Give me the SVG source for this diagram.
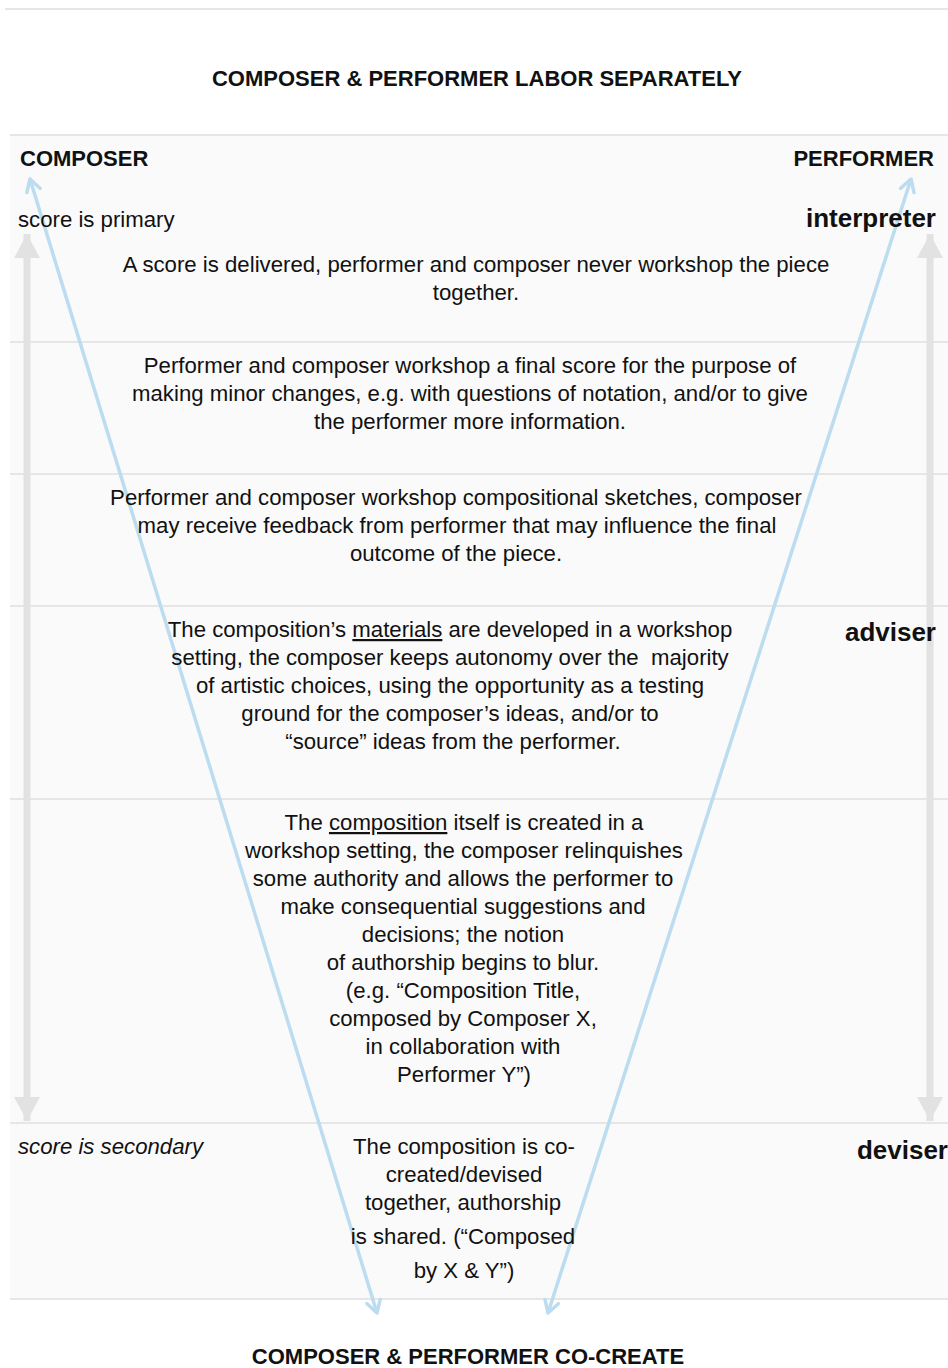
<svg xmlns="http://www.w3.org/2000/svg" width="948" height="1368" viewBox="0 0 948 1368">
<defs>
<style>
text{font-family:"Liberation Sans",Arial,sans-serif;fill:#111}
.b{font-size:22.2px}
.t{font-size:22px;font-weight:bold}
.r{font-size:26px;font-weight:bold}
.c{text-anchor:middle}
.sep{stroke:#e6e6e6;stroke-width:2}
.blue{stroke:#bcdcf0;stroke-width:3.5;fill:none}
.gray{stroke:#e2e2e2;stroke-width:7;fill:none}
.u{text-decoration:underline}
</style>
<marker id="bh" viewBox="0 0 20 20" refX="17" refY="10" markerWidth="20" markerHeight="20" markerUnits="userSpaceOnUse" orient="auto-start-reverse">
<path d="M5,3 L17,10 L5,17" fill="none" stroke="#bcdcf0" stroke-width="3.5" stroke-linecap="round" stroke-linejoin="round"/>
</marker>
<marker id="gh" viewBox="0 0 26 26" refX="24" refY="13" markerWidth="26" markerHeight="26" markerUnits="userSpaceOnUse" orient="auto-start-reverse">
<path d="M0,0 L24,13 L0,26 Z" fill="#e2e2e2"/>
</marker>
</defs>
<rect x="0" y="0" width="948" height="1368" fill="#ffffff"/>
<rect x="10" y="135" width="938" height="1164" fill="#fafafa"/>
<g id="separators">
<line class="sep" x1="5" y1="9" x2="948" y2="9"/>
<line class="sep" x1="10" y1="135" x2="948" y2="135"/>
<line class="sep" x1="10" y1="342" x2="948" y2="342"/>
<line class="sep" x1="10" y1="474" x2="948" y2="474"/>
<line class="sep" x1="10" y1="606" x2="948" y2="606"/>
<line class="sep" x1="10" y1="799" x2="948" y2="799"/>
<line class="sep" x1="10" y1="1123" x2="948" y2="1123"/>
<line class="sep" x1="10" y1="1299" x2="948" y2="1299"/>
</g>
<g id="connectors">
<line class="gray" x1="27" y1="234" x2="27" y2="1121" marker-start="url(#gh)" marker-end="url(#gh)"/>
<line class="gray" x1="930" y1="234" x2="930" y2="1121" marker-start="url(#gh)" marker-end="url(#gh)"/>
<line class="blue" x1="30" y1="179" x2="377" y2="1313" marker-start="url(#bh)" marker-end="url(#bh)"/>
<line class="blue" x1="911" y1="179" x2="548" y2="1313" marker-start="url(#bh)" marker-end="url(#bh)"/>
</g>
<g id="title-top"><text class="t c" x="477" y="86">COMPOSER &amp; PERFORMER LABOR SEPARATELY</text></g>
<g id="composer"><text class="t" x="20" y="166">COMPOSER</text></g>
<g id="performer"><text class="t" x="934" y="166" text-anchor="end">PERFORMER</text></g>
<g id="score-primary"><text class="b" x="18" y="227">score is primary</text></g>
<g id="interpreter"><text class="r" x="936" y="227" text-anchor="end">interpreter</text></g>
<g id="adviser"><text class="r" x="936" y="641" text-anchor="end">adviser</text></g>
<g id="deviser"><text class="r" x="948" y="1159" text-anchor="end">deviser</text></g>
<g id="score-secondary"><text class="b" x="18" y="1154" font-style="italic">score is secondary</text></g>
<g id="level1">
<text class="b c" x="476" y="272">A score is delivered, performer and composer never workshop the piece</text>
<text class="b c" x="476" y="300">together.</text>
</g>
<g id="level2">
<text class="b c" x="470" y="373">Performer and composer workshop a final score for the purpose of</text>
<text class="b c" x="470" y="401">making minor changes, e.g. with questions of notation, and/or to give</text>
<text class="b c" x="470" y="429">the performer more information.</text>
</g>
<g id="level3">
<text class="b c" x="456" y="505">Performer and composer workshop compositional sketches, composer</text>
<text class="b c" x="457" y="533">may receive feedback from performer that may influence the final</text>
<text class="b c" x="456" y="561">outcome of the piece.</text>
</g>
<g id="level4">
<text class="b c" x="450" y="637">The composition’s <tspan class="u">materials</tspan> are developed in a workshop</text>
<text class="b c" x="450" y="665" style="white-space:pre">setting, the composer keeps autonomy over the  majority</text>
<text class="b c" x="450" y="693">of artistic choices, using the opportunity as a testing</text>
<text class="b c" x="450" y="721">ground for the composer’s ideas, and/or to</text>
<text class="b c" x="453" y="749">“source” ideas from the performer.</text>
</g>
<g id="level5">
<text class="b c" x="464" y="830">The <tspan class="u">composition</tspan> itself is created in a</text>
<text class="b c" x="464" y="858">workshop setting, the composer relinquishes</text>
<text class="b c" x="463" y="886">some authority and allows the performer to</text>
<text class="b c" x="463" y="914">make consequential suggestions and</text>
<text class="b c" x="463" y="942">decisions; the notion</text>
<text class="b c" x="463" y="970">of authorship begins to blur.</text>
<text class="b c" x="463" y="998">(e.g. “Composition Title,</text>
<text class="b c" x="463" y="1026">composed by Composer X,</text>
<text class="b c" x="463" y="1054">in collaboration with</text>
<text class="b c" x="464" y="1082">Performer Y”)</text>
</g>
<g id="level6">
<text class="b c" x="464" y="1154">The composition is co-</text>
<text class="b c" x="464" y="1182">created/devised</text>
<text class="b c" x="463" y="1210">together, authorship</text>
<text class="b c" x="463" y="1244">is shared. (“Composed</text>
<text class="b c" x="464" y="1278">by X &amp; Y”)</text>
</g>
<g id="title-bottom"><text class="t c" x="468" y="1364">COMPOSER &amp; PERFORMER CO-CREATE</text></g>
</svg>
